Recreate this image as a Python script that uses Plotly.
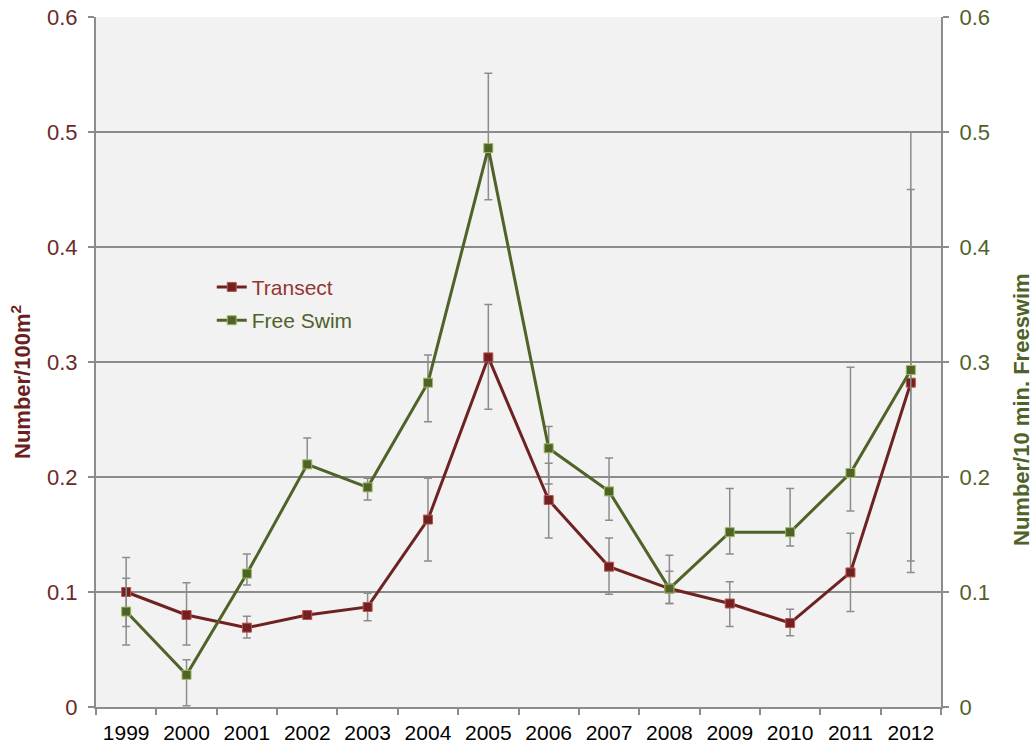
import plotly.graph_objects as go

years = ["1999", "2000", "2001", "2002", "2003", "2004", "2005", "2006",
         "2007", "2008", "2009", "2010", "2011", "2012"]

transect = [0.100, 0.080, 0.069, 0.080, 0.087, 0.163, 0.304, 0.180,
            0.122, 0.103, 0.090, 0.073, 0.117, 0.282]
transect_err_plus = [0.030, 0.028, 0.010, 0.0, 0.012, 0.036, 0.046, 0.032,
                     0.025, 0.015, 0.019, 0.012, 0.034, 0.168]
transect_err_minus = [0.030, 0.026, 0.009, 0.0, 0.012, 0.036, 0.045, 0.033,
                      0.024, 0.013, 0.020, 0.011, 0.034, 0.165]

freeswim = [0.083, 0.028, 0.116, 0.211, 0.191, 0.282, 0.486, 0.225,
            0.1875, 0.103, 0.152, 0.152, 0.2035, 0.293]
freeswim_err_plus = [0.029, 0.013, 0.017, 0.023, 0.008, 0.024, 0.065, 0.019,
                     0.029, 0.029, 0.038, 0.038, 0.092, 0.207]
freeswim_err_minus = [0.029, 0.027, 0.010, 0.0, 0.011, 0.034, 0.045, 0.031,
                      0.025, 0.013, 0.019, 0.012, 0.033, 0.166]

y_ticks = [0, 0.1, 0.2, 0.3, 0.4, 0.5, 0.6]
y_tick_labels = ["0", "0.1", "0.2", "0.3", "0.4", "0.5", "0.6"]

RED_LINE = "#6e2222"
RED_MARK_EDGE = "#c0504d"
GREEN_LINE = "#4f6228"
GREEN_MARK_EDGE = "#9bbb59"
LEFT_TXT = "#6b2a2a"
RIGHT_TXT = "#4f6228"
GRID = "#8c8c8c"
FONT = "Liberation Sans, Arial, sans-serif"

fig = go.Figure()

fig.add_trace(go.Scatter(
    x=years, y=transect, mode="lines+markers",
    name="<span style='color:#943634'>Transect</span>",
    legendgroup="t",
    line=dict(color=RED_LINE, width=3),
    marker=dict(symbol="square", size=9, color=RED_LINE,
                line=dict(color=RED_MARK_EDGE, width=1)),
    error_y=dict(type="data", symmetric=False, array=transect_err_plus,
                 arrayminus=transect_err_minus, color="#8c8c8c",
                 thickness=1.5, width=4),
    yaxis="y",
))

fig.add_trace(go.Scatter(
    x=years, y=freeswim, mode="lines+markers",
    name="<span style='color:#4f6228'>Free Swim</span>",
    legendgroup="f",
    line=dict(color=GREEN_LINE, width=3),
    marker=dict(symbol="square", size=9, color=GREEN_LINE,
                line=dict(color=GREEN_MARK_EDGE, width=1)),
    error_y=dict(type="data", symmetric=False, array=freeswim_err_plus,
                 arrayminus=freeswim_err_minus, color="#8c8c8c",
                 thickness=1.5, width=4),
    yaxis="y2",
))

fig.update_layout(
    width=1035, height=747,
    margin=dict(l=96, r=94, t=17, b=40, autoexpand=False),
    paper_bgcolor="white",
    plot_bgcolor="#f2f2f2",
    font=dict(family=FONT, size=21, color="black"),
    showlegend=True,
    legend=dict(x=0.137, y=0.638, xanchor="left", yanchor="top",
                bgcolor="rgba(0,0,0,0)", font=dict(size=21),
                tracegroupgap=3),
    xaxis=dict(
        type="category", range=[-0.5, 13.5], automargin=False,
        showline=True, linecolor=GRID, linewidth=2,
        ticks="outside", tickson="boundaries", ticklen=6, tickcolor=GRID,
        tickwidth=1.5, showgrid=False, tickfont=dict(size=21, color="black"),
        mirror=False, ticklabelstandoff=6, ticklabeloverflow="allow",
    ),
    yaxis=dict(
        range=[0, 0.6], tickvals=y_ticks, ticktext=y_tick_labels,
        automargin=False, ticklabeloverflow="allow",
        showline=True, linecolor=GRID, linewidth=2,
        ticks="outside", ticklen=6, tickcolor=GRID, tickwidth=1.5,
        showgrid=True, gridcolor=GRID, gridwidth=1.5,
        tickfont=dict(size=22, color=LEFT_TXT), zeroline=False,
        ticklabelstandoff=6,
    ),
    yaxis2=dict(
        range=[0, 0.6], tickvals=y_ticks, ticktext=y_tick_labels,
        overlaying="y", side="right", automargin=False,
        ticklabeloverflow="allow",
        showline=True, linecolor=GRID, linewidth=2,
        ticks="outside", ticklen=6, tickcolor=GRID, tickwidth=1.5,
        showgrid=False, zeroline=False,
        tickfont=dict(size=22, color=RIGHT_TXT),
        ticklabelstandoff=6,
    ),
    annotations=[
        dict(text="<b>Number/100m<sup>2</sup></b>", xref="paper", yref="paper",
             x=(21 - 96) / 845, y=(707 - 382) / 690, xanchor="center",
             yanchor="middle", textangle=-90, showarrow=False,
             font=dict(family=FONT, size=22, color="#6b1f1f")),
        dict(text="<b>Number/10 min. Freeswim</b>", xref="paper", yref="paper",
             x=(1021 - 96) / 845, y=(707 - 410) / 690, xanchor="center",
             yanchor="middle", textangle=-90, showarrow=False,
             font=dict(family=FONT, size=22, color=RIGHT_TXT)),
    ],
)

# remove the browser's default 8px body margin so the figure sits at the page origin
fig.write_html("out.html", config={"displayModeBar": False},
               post_script="document.body.style.margin='0';")
